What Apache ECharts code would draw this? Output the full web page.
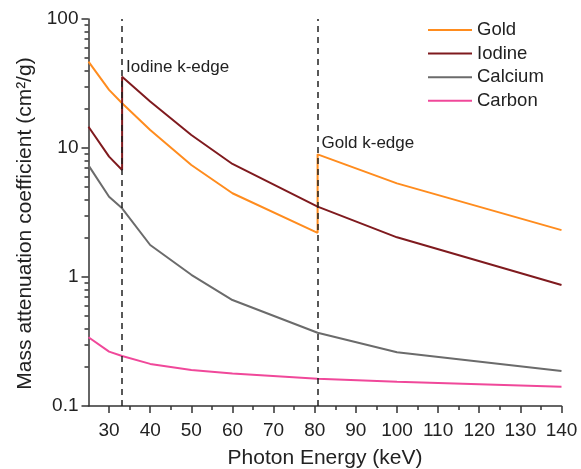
<!DOCTYPE html>
<html>
<head>
<meta charset="utf-8">
<script src="https://cdn.jsdelivr.net/npm/echarts@6/dist/echarts.min.js"></script>
<style>html,body{margin:0;padding:0;background:#fff}#c{width:581px;height:469px}</style>
</head>
<body>
<div id="c"></div>
<script>
// Photon energies (keV); edges repeated for the discontinuities
var energies = [25, 30, 33.17, 33.17, 40, 50, 60, 80.7, 80.7, 100, 140];
var gold    = [46.7, 28.2, 22.2, 22.2, 13.8, 7.38, 4.46, 2.20, 8.93, 5.32, 2.31];
var iodine  = [14.6, 8.57, 6.75, 35.7, 22.9, 12.6, 7.52, 3.51, 3.51, 2.03, 0.867];
var calcium = [7.33, 4.19, 3.41, 3.41, 1.77, 1.04, 0.663, 0.37, 0.37, 0.261, 0.187];
var carbon  = [0.341, 0.264, 0.244, 0.244, 0.212, 0.19, 0.179, 0.163, 0.163, 0.154, 0.141];
var seriesNames = ['Gold', 'Iodine', 'Calcium', 'Carbon'];
var kEdges = [33.17, 80.7];
var kEdgeLabels = ['Iodine k-edge', 'Gold k-edge'];
var kEdgeLabelY = [42, 10.8];
var xMajorTicks = [30, 40, 50, 60, 70, 80, 90, 100, 110, 120, 130, 140];
var xMinorTicks = [35, 45, 55, 65, 75, 85, 95, 105, 115, 125, 135];
var yMajorTicks = [0.1, 1, 10, 100];
var yMinorTicks = [0.2,0.3,0.4,0.5,0.6,0.7,0.8,0.9,2,3,4,5,6,7,8,9,20,30,40,50,60,70,80,90];

var colors = ['#FF8C1E', '#7F1A1E', '#6B6B6B', '#F0489A'];
var FONT = 'Liberation Sans, Arial, sans-serif';
function pairs(v){ return energies.map(function(e,i){ return [e, v[i]]; }); }
function ls(){ return {color:'#333333', width:1.5}; }
var allData = [gold, iodine, calcium, carbon];

var series = allData.map(function(d, i){
  return {
    name: seriesNames[i], type:'line', data: pairs(d), xAxisIndex:0, yAxisIndex:0,
    showSymbol:false, symbol:'none', lineStyle:{color:colors[i], width:2}, itemStyle:{color:colors[i]},
    z: 3
  };
});
series[3].markLine = {
  silent:true, symbol:['none','none'], label:{show:false},
  lineStyle:{color:'#222', type:[6,5], width:1.5},
  data: kEdges.map(function(x){ return {xAxis:x}; })
};
series[3].markPoint = {
  silent:true, symbol:'circle', symbolSize:0,
  label:{show:true, position:'right', distance:4, color:'#222', fontSize:17, fontFamily:FONT,
    formatter:function(p){ return p.name; }},
  data: kEdges.map(function(x,i){ return {name:kEdgeLabels[i], coord:[x, kEdgeLabelY[i]]}; })
};

var chart = echarts.init(document.getElementById('c'), null, {renderer:'canvas'});
chart.setOption({
  animation:false,
  backgroundColor:'#fff',
  color: colors,
  grid:{left:88.5, right:19.5, top:19, bottom:63, containLabel:false, outerBoundsMode:'none'},
  legend:{
    data: seriesNames, orient:'vertical', left:428, top:20.5, padding:0,
    itemWidth:44, itemHeight:2, itemGap:4.6, icon:'rect',
    textStyle:{fontSize:18.5, color:'#222', fontFamily:FONT}
  },
  xAxis:[{
    type:'value', min:25, max:140,
    name:'Photon Energy (keV)', nameLocation:'middle', nameGap:42,
    nameTextStyle:{fontSize:21, color:'#222', fontFamily:FONT},
    axisLine:{show:true, lineStyle:ls()},
    axisTick:{show:true, length:7, customValues:xMajorTicks, lineStyle:ls()},
    axisLabel:{show:true, customValues:xMajorTicks, margin:15, fontSize:19, color:'#222', fontFamily:FONT},
    splitLine:{show:false}
  },{
    type:'value', min:25, max:140, position:'bottom',
    axisLine:{show:false},
    axisTick:{show:true, length:4, customValues:xMinorTicks, lineStyle:ls()},
    axisLabel:{show:false}, splitLine:{show:false}
  }],
  yAxis:[{
    type:'log', logBase:10, min:0.1, max:100,
    name:'Mass attenuation coefficient (cm²/g)', nameLocation:'middle', nameGap:47,
    nameTextStyle:{fontSize:21, color:'#222', fontFamily:FONT, padding:[0,22,0,0]},
    axisLine:{show:true, lineStyle:ls()},
    axisTick:{show:true, length:7, customValues:yMajorTicks, lineStyle:ls()},
    axisLabel:{show:true, customValues:yMajorTicks, margin:10, fontSize:19, color:'#222', fontFamily:FONT,
      formatter:function(v){ return String(parseFloat(Number(v).toPrecision(3))); }},
    splitLine:{show:false}
  },{
    type:'log', logBase:10, min:0.1, max:100, position:'left',
    axisLine:{show:false},
    axisTick:{show:true, length:4, customValues:yMinorTicks, lineStyle:ls()},
    axisLabel:{show:false}, splitLine:{show:false}
  }],
  series: series
});
</script>
</body>
</html>
